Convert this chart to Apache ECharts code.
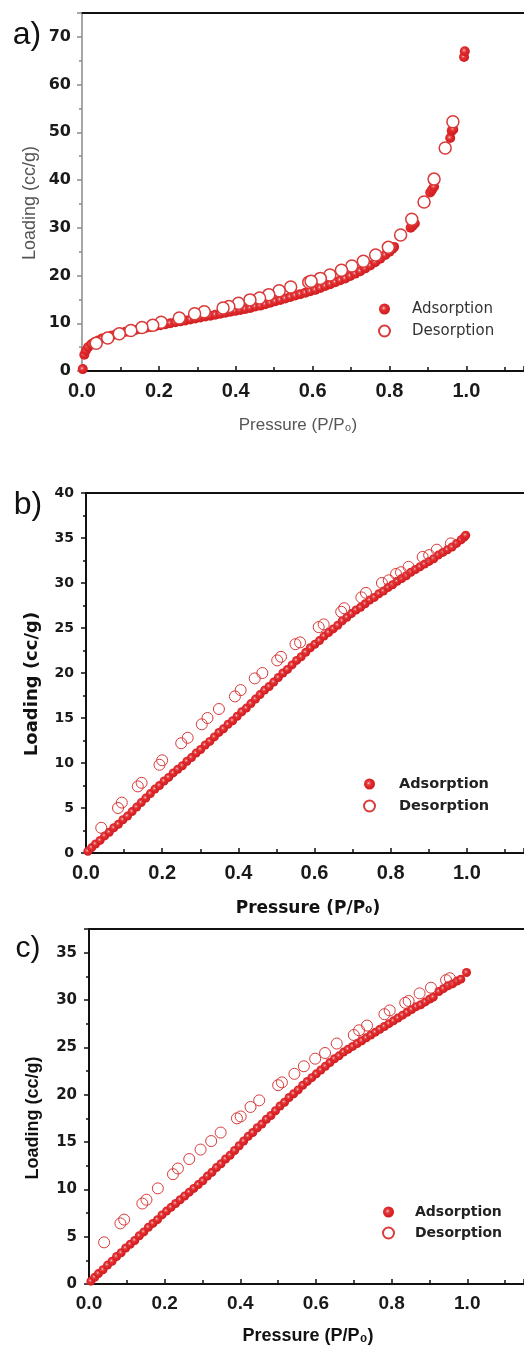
<!DOCTYPE html>
<html>
<head>
<meta charset="utf-8">
<script src="https://cdn.jsdelivr.net/npm/echarts@6/dist/echarts.min.js"></script>
<style>
html,body{margin:0;padding:0;background:#fff;}
#c{width:524px;height:1346px;}
</style>
</head>
<body>
<div id="c"></div>
<script>
// ---------- data ----------
var xTicks = [0, 0.2, 0.4, 0.6, 0.8, 1.0];
var panelLabels = ['a)', 'b)', 'c)'];
var seriesNames = ['Adsorption', 'Desorption'];
var yTitle = 'Loading (cc/g)';
var xTitle = 'Pressure (P/P\u2080)';

var aAds = [[0.002,0.4],[0.006,3.4],[0.010,4.3],[0.016,5.0],[0.024,5.6],[0.032,6.0],[0.042,6.4],[0.052,6.8],[0.064,7.1],[0.076,7.4],[0.088,7.7],[0.100,8.0],[0.113,8.2],[0.126,8.4],[0.139,8.6],[0.152,8.8],[0.165,9.0],[0.178,9.2],[0.191,9.4],[0.204,9.6],[0.217,9.8],[0.230,10.0],[0.243,10.2],[0.256,10.4],[0.269,10.6],[0.282,10.8],[0.295,11.0],[0.308,11.2],[0.321,11.4],[0.334,11.6],[0.347,11.8],[0.360,12.0],[0.373,12.2],[0.386,12.4],[0.399,12.6],[0.412,12.8],[0.425,13.0],[0.438,13.2],[0.451,13.5],[0.464,13.7],[0.477,14.0],[0.490,14.3],[0.503,14.6],[0.516,14.9],[0.529,15.2],[0.542,15.5],[0.555,15.8],[0.568,16.1],[0.581,16.4],[0.594,16.7],[0.607,17.0],[0.620,17.4],[0.633,17.8],[0.646,18.2],[0.659,18.6],[0.672,19.0],[0.685,19.4],[0.698,19.9],[0.711,20.4],[0.724,20.9],[0.737,21.5],[0.750,22.1],[0.763,22.8],[0.776,23.5],[0.789,24.3],[0.800,25.0],[0.808,25.6],[0.812,26.0],[0.855,30.0],[0.860,30.4],[0.866,30.9],[0.906,37.4],[0.911,38.0],[0.916,38.6],[0.958,48.8],[0.962,50.3],[0.966,50.6],[0.994,65.8],[0.996,67.0]];
var aDes = [[0.965,52.2],[0.945,46.7],[0.916,40.2],[0.890,35.4],[0.858,31.8],[0.829,28.5],[0.797,25.9],[0.764,24.3],[0.732,23.0],[0.702,22.0],[0.675,21.1],[0.645,20.1],[0.620,19.4],[0.590,18.6],[0.596,18.8],[0.543,17.6],[0.513,16.8],[0.486,16.0],[0.462,15.3],[0.437,14.9],[0.407,14.2],[0.382,13.5],[0.367,13.2],[0.318,12.4],[0.293,12.0],[0.253,11.1],[0.206,10.2],[0.184,9.6],[0.156,9.1],[0.127,8.5],[0.097,7.8],[0.067,6.9],[0.037,5.8]];

var bAds = [[0.005,0.2],[0.015,0.6],[0.025,1.0],[0.037,1.4],[0.049,1.9],[0.061,2.3],[0.073,2.8],[0.085,3.2],[0.097,3.7],[0.109,4.1],[0.121,4.6],[0.133,5.1],[0.145,5.6],[0.157,6.1],[0.169,6.6],[0.181,7.1],[0.193,7.5],[0.205,8.0],[0.217,8.4],[0.229,8.9],[0.241,9.3],[0.253,9.7],[0.265,10.2],[0.277,10.6],[0.289,11.1],[0.301,11.5],[0.313,12.0],[0.325,12.4],[0.337,12.9],[0.349,13.4],[0.361,13.8],[0.373,14.3],[0.385,14.7],[0.397,15.2],[0.409,15.7],[0.421,16.1],[0.433,16.6],[0.445,17.1],[0.457,17.6],[0.469,18.1],[0.481,18.5],[0.493,19.0],[0.505,19.5],[0.517,20.0],[0.529,20.4],[0.541,20.9],[0.553,21.4],[0.565,21.8],[0.577,22.3],[0.589,22.8],[0.601,23.2],[0.613,23.6],[0.625,24.1],[0.637,24.5],[0.649,24.9],[0.661,25.3],[0.673,25.8],[0.685,26.2],[0.697,26.6],[0.709,27.0],[0.721,27.3],[0.733,27.7],[0.745,28.1],[0.757,28.4],[0.769,28.8],[0.781,29.1],[0.793,29.5],[0.805,29.8],[0.817,30.2],[0.829,30.5],[0.841,30.8],[0.853,31.2],[0.865,31.5],[0.877,31.8],[0.889,32.1],[0.901,32.4],[0.913,32.7],[0.925,33.1],[0.937,33.4],[0.949,33.7],[0.961,34.0],[0.973,34.4],[0.985,34.8],[0.993,35.1],[0.997,35.3]];
var bDes = [[0.958,34.4],[0.921,33.7],[0.901,33.1],[0.884,32.9],[0.847,31.8],[0.827,31.2],[0.814,31.0],[0.795,30.3],[0.777,30.0],[0.735,28.9],[0.723,28.4],[0.678,27.2],[0.670,26.8],[0.624,25.4],[0.611,25.1],[0.562,23.4],[0.550,23.2],[0.512,21.8],[0.502,21.4],[0.463,20.0],[0.443,19.4],[0.406,18.1],[0.391,17.4],[0.349,16.0],[0.319,15.0],[0.304,14.3],[0.267,12.8],[0.250,12.2],[0.200,10.3],[0.193,9.8],[0.146,7.8],[0.136,7.4],[0.094,5.6],[0.084,5.0],[0.040,2.8]];

var cAds = [[0.005,0.3],[0.015,0.7],[0.025,1.1],[0.037,1.5],[0.049,2.0],[0.061,2.4],[0.073,2.9],[0.085,3.3],[0.097,3.8],[0.109,4.2],[0.121,4.6],[0.133,5.1],[0.145,5.5],[0.157,6.0],[0.169,6.4],[0.181,6.8],[0.193,7.3],[0.205,7.7],[0.217,8.1],[0.229,8.5],[0.241,8.9],[0.253,9.3],[0.265,9.7],[0.277,10.1],[0.289,10.5],[0.301,10.9],[0.313,11.4],[0.325,11.8],[0.337,12.3],[0.349,12.7],[0.361,13.2],[0.373,13.6],[0.385,14.1],[0.397,14.6],[0.409,15.1],[0.421,15.6],[0.433,16.0],[0.445,16.5],[0.457,16.9],[0.469,17.4],[0.481,17.8],[0.493,18.3],[0.505,18.8],[0.517,19.2],[0.529,19.7],[0.541,20.1],[0.553,20.5],[0.565,21.0],[0.577,21.4],[0.589,21.8],[0.601,22.2],[0.613,22.6],[0.625,23.0],[0.637,23.4],[0.649,23.8],[0.661,24.1],[0.673,24.5],[0.685,24.8],[0.697,25.1],[0.709,25.4],[0.721,25.7],[0.733,26.0],[0.745,26.3],[0.757,26.6],[0.769,26.9],[0.781,27.2],[0.793,27.5],[0.805,27.8],[0.817,28.1],[0.829,28.4],[0.841,28.7],[0.853,29.0],[0.865,29.3],[0.877,29.5],[0.889,29.8],[0.901,30.1],[0.910,30.3],[0.925,30.9],[0.937,31.2],[0.949,31.5],[0.961,31.7],[0.973,32.0],[0.983,32.2],[0.998,32.9]];
var cDes = [[0.954,32.3],[0.944,32.1],[0.904,31.3],[0.874,30.7],[0.845,29.9],[0.836,29.7],[0.795,28.9],[0.781,28.5],[0.735,27.3],[0.714,26.8],[0.700,26.3],[0.655,25.4],[0.624,24.4],[0.598,23.8],[0.568,23.0],[0.543,22.2],[0.510,21.3],[0.500,21.0],[0.450,19.4],[0.427,18.7],[0.401,17.7],[0.391,17.5],[0.348,16.0],[0.323,15.1],[0.295,14.2],[0.265,13.2],[0.235,12.2],[0.222,11.6],[0.182,10.1],[0.152,8.9],[0.141,8.5],[0.093,6.8],[0.083,6.4],[0.040,4.4]];

var yMax = [75, 40, 37.5];
var yInterval = [10, 5, 5];
var yLabelMax = [70, 40, 35];

// ---------- styling / layout ----------
var ballFill = {type:'radial', x:0.42, y:0.42, r:0.6, colorStops:[
  {offset:0, color:'#e6d6ee'}, {offset:0.2, color:'#e8585a'}, {offset:0.45, color:'#e02a2c'}, {offset:1, color:'#d01c20'}]};

var grids = [
  {left:82, top:13, height:358, width:403*1.15},
  {left:86, top:493, height:360, width:404*1.15},
  {left:89, top:929, height:355, width:396*1.15}
];
var yFont = [
  {fontFamily:'DejaVu Sans', fontWeight:'bold', fontSize:16, margin:11},
  {fontFamily:'DejaVu Sans', fontWeight:'bold', fontSize:14, margin:12},
  {fontFamily:'DejaVu Sans', fontWeight:'bold', fontSize:15, margin:12}
];
var xFont = [
  {fontFamily:'Liberation Sans', fontWeight:'bold', fontSize:20, margin:10},
  {fontFamily:'Liberation Sans', fontWeight:'bold', fontSize:20, margin:10},
  {fontFamily:'Liberation Sans', fontWeight:'bold', fontSize:19, margin:10}
];
var leftAxisColor = ['#8a8a8a', '#111', '#111'];

var xAxes = [], yAxes = [], series = [], legends = [];
for (var i = 0; i < 3; i++) {
  (function(i){
    xAxes.push({
      gridIndex:i, type:'value', position:'bottom', min:0, max:1.15, interval:0.2,
      axisLine:{onZero:false, lineStyle:{color:'#111', width:2}},
      axisTick:{inside:true, length:5, lineStyle:{color:'#111', width:1.5}},
      minorTick:{show:true, splitNumber:2, length:4, lineStyle:{color:'#111', width:1.5}},
      splitLine:{show:false},
      axisLabel:{color:'#1a1a1a', fontFamily:xFont[i].fontFamily, fontWeight:xFont[i].fontWeight, fontSize:xFont[i].fontSize, margin:xFont[i].margin,
        showMaxLabel:false,
        formatter:function(v){ return v <= 1.0001 ? v.toFixed(1) : ''; }}
    });
    xAxes.push({
      gridIndex:i, type:'value', position:'top', min:0, max:1.15,
      axisLine:{show:true, onZero:false, lineStyle:{color:'#111', width:2}},
      axisTick:{show:false}, axisLabel:{show:false}, splitLine:{show:false}
    });
    yAxes.push({
      gridIndex:i, type:'value', min:0, max:yMax[i], interval:yInterval[i],
      axisLine:{show:true, onZero:false, lineStyle:{color:leftAxisColor[i], width: i===0?1.5:2}},
      axisTick:{show:true, inside:false, length:5, lineStyle:{color:leftAxisColor[i], width:1.5}},
      minorTick:{show:true, splitNumber:2, length:3, lineStyle:{color:leftAxisColor[i], width:1.5}},
      splitLine:{show:false},
      axisLabel:{color:'#1a1a1a', fontFamily:yFont[i].fontFamily, fontWeight:yFont[i].fontWeight, fontSize:yFont[i].fontSize, margin:yFont[i].margin,
        formatter:function(v){ return (v <= yLabelMax[i] + 1e-6 && Math.abs(v/yInterval[i] - Math.round(v/yInterval[i])) < 1e-6) ? String(Math.round(v)) : ''; }}
    });
  })(i);
}

var adsData = [aAds, bAds, cAds];
var desData = [aDes, bDes, cDes];
var adsSize = [10, 9, 9];
var desSize = [12, 11, 11];
var desFill = ['#ffffff', 'rgba(255,255,255,0)', 'rgba(255,255,255,0)'];
var desBorder = [1.5, 1, 1];
for (var j = 0; j < 3; j++) {
  series.push({
    name:seriesNames[0], type:'scatter', xAxisIndex:2*j, yAxisIndex:j, clip:false,
    symbol:'circle', symbolSize:adsSize[j], data:adsData[j],
    itemStyle:{color:ballFill, opacity:1}, emphasis:{disabled:true}, z:2
  });
  series.push({
    name:seriesNames[1], type:'scatter', xAxisIndex:2*j, yAxisIndex:j, clip:false,
    symbol:'circle', symbolSize:desSize[j], data:desData[j],
    itemStyle:{color:desFill[j], borderColor:'#d93a3a', borderWidth:desBorder[j], opacity:1}, emphasis:{disabled:true}, z:3
  });
}

var legendPos = [
  {left:378, top:301, pad:17, font:{fontFamily:'DejaVu Sans', fontSize:15, fontWeight:'normal', color:'#333'}, gap:6},
  {left:363, top:776, pad:19, font:{fontFamily:'DejaVu Sans', fontSize:14.5, fontWeight:'bold', color:'#222'}, gap:6},
  {left:382, top:1204, pad:16, font:{fontFamily:'DejaVu Sans', fontSize:14, fontWeight:'bold', color:'#222'}, gap:5}
];
for (var k = 0; k < 3; k++) {
  legends.push({
    orient:'vertical', left:legendPos[k].left, top:legendPos[k].top, padding:0,
    itemWidth:11, itemHeight:11, itemGap:legendPos[k].gap, icon:'circle',
    selectedMode:false, data:seriesNames,
    textStyle:{fontFamily:legendPos[k].font.fontFamily, fontSize:legendPos[k].font.fontSize, fontWeight:legendPos[k].font.fontWeight,
      color:legendPos[k].font.color, lineHeight:16, padding:[0,0,0,legendPos[k].pad]}
  });
}

function txt(text, x, y, font, fill, rot) {
  return {type:'text', x:x, y:y, rotation:rot||0, silent:true,
    style:{text:text, font:font, fill:fill, align:'center', verticalAlign:'middle'}};
}
var graphics = [
  txt(panelLabels[0], 27, 35, 'normal 32px "Liberation Sans"', '#111'),
  txt(panelLabels[1], 28, 505, 'normal 32px "Liberation Sans"', '#111'),
  txt(panelLabels[2], 28, 949, 'normal 30px "Liberation Sans"', '#111'),
  txt(yTitle, 30, 203, 'normal 18px "Liberation Sans"', '#555', Math.PI/2),
  txt(xTitle, 298, 425, 'normal 17px "Liberation Sans"', '#555'),
  txt(yTitle, 32, 684, 'bold 18px "DejaVu Sans"', '#111', Math.PI/2),
  txt(xTitle, 308, 909, 'bold 17px "DejaVu Sans"', '#111'),
  txt(yTitle, 33, 1118, 'bold 18px "Liberation Sans"', '#111', Math.PI/2),
  txt(xTitle, 308, 1336, 'bold 18px "Liberation Sans"', '#111')
];

var chart = echarts.init(document.getElementById('c'), null, {renderer:'canvas'});
chart.setOption({
  backgroundColor:'#ffffff',
  animation:false,
  grid:grids,
  xAxis:xAxes,
  yAxis:yAxes,
  legend:legends,
  series:series,
  graphic:graphics
});
</script>
</body>
</html>
